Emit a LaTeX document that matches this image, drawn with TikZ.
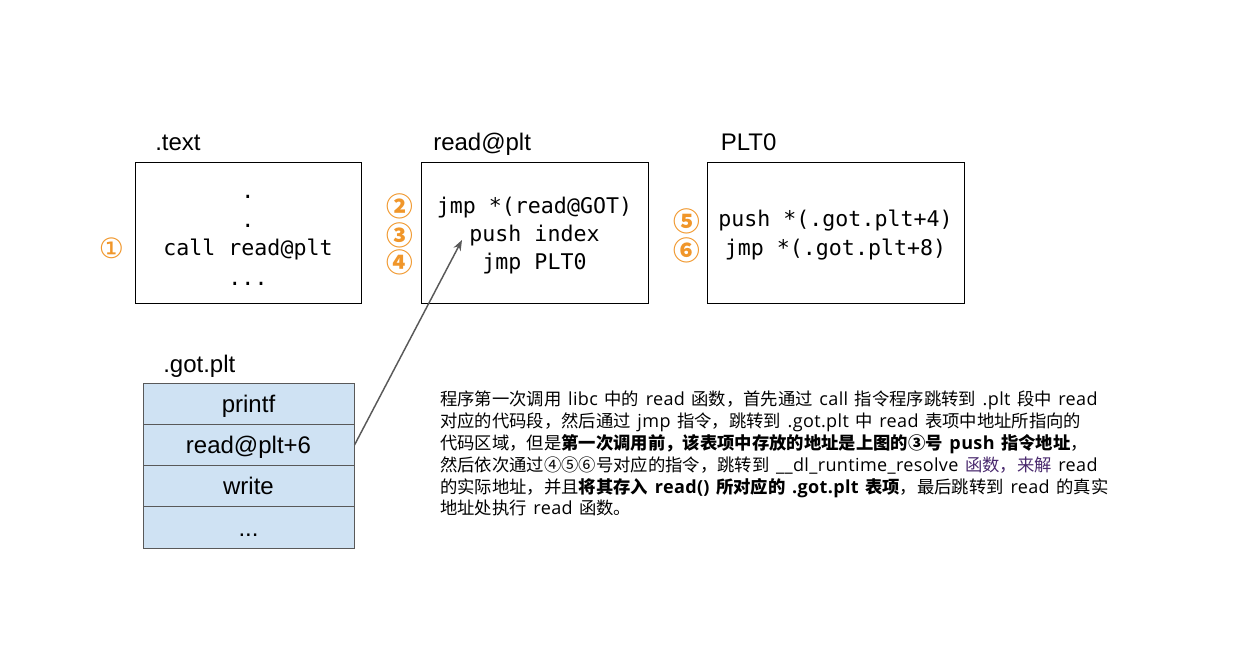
\documentclass[tikz,border=0pt]{standalone}
\usepackage{fontspec}
\setmainfont{Liberation Sans}
\newfontfamily\codefont{DejaVu Sans Mono}
\newfontfamily\cjk{Noto Sans CJK SC}
\newfontfamily\latf[Scale=1.04,LetterSpace=2,WordSpace=1.3]{Open Sans}
\newfontfamily\circfont{DejaVu Sans}
\newcommand{\ls}[1]{{\latf #1}}
\usetikzlibrary{arrows.meta}
\definecolor{numorange}{HTML}{F0962A}
\definecolor{gotfill}{HTML}{CFE2F3}
\definecolor{linegray}{HTML}{595959}
\definecolor{purp}{HTML}{4A2A6E}
\begin{document}
\begin{tikzpicture}[x=0.75pt,y=-0.75pt,
  secbox/.style={draw=black,line width=0.75pt,minimum height=105.75pt,inner sep=0pt},
  codeline/.style={anchor=base,inner sep=0pt,font=\codefont\fontsize{16.2}{19}\selectfont},
  seclabel/.style={anchor=base west,inner sep=0pt,font=\fontsize{18}{21}\selectfont},
  gotrow/.style={draw=linegray,fill=gotfill,line width=0.75pt,minimum width=158.25pt,minimum height=30.9pt,inner sep=0pt,
     text height=17pt,text depth=4.2pt,font=\fontsize{18}{21}\selectfont},
  thinnum/.style={inner sep=0pt,text=numorange,font=\circfont\fontsize{21}{24}\selectfont},
  boldnum/.style={inner sep=0pt,text=numorange,font=\cjk\bfseries\fontsize{20}{22}\selectfont},
  flowarrow/.style={draw=linegray,line width=1.1pt,-{Stealth[length=8pt,width=6pt]}}
]
\useasboundingbox (0,0) rectangle (1233,651);

% section boxes
\node[secbox,minimum width=169.5pt] (textbox) at (248,232.5) {};
\node[secbox,minimum width=170.25pt] (pltbox) at (534.5,232.5) {};
\node[secbox,minimum width=192.75pt] (plt0box) at (835.5,232.5) {};

% labels
\node[seclabel] (textlbl) at (155,150) {.text};
\node[seclabel] (pltlbl) at (433,150) {read@plt};
\node[seclabel] (plt0lbl) at (720.5,150) {PLT0};
\node[seclabel] (gotlbl) at (163,372.5) {.got.plt};

% .text code
\node[codeline] (t1) at (248,198.5) {.};
\node[codeline] (t2) at (248,227) {.};
\node[codeline] (t3) at (248,255) {call read@plt};
\node[codeline] (t4) at (248,285) {...};

% read@plt code
\node[codeline] (p1) at (534.5,213.5) {jmp *(read@GOT)};
\node[codeline] (p2) at (534.5,241) {push index};
\node[codeline] (p3) at (534.5,269) {jmp PLT0};

% PLT0 code
\node[codeline] (q1) at (835.5,226.5) {push *(.got.plt+4)};
\node[codeline] (q2) at (835.5,255) {jmp *(.got.plt+8)};

% circled numbers
\node[thinnum] (n1) at (111.5,248) {①};
\node[boldnum] (n2) at (400,206.5) {②};
\node[boldnum] (n3) at (400,235) {③};
\node[boldnum] (n4) at (400,262) {④};
\node[boldnum] (n5) at (686.5,221.5) {⑤};
\node[boldnum] (n6) at (686.5,250) {⑥};

% .got.plt table
\node[gotrow] (r1) at (248.5,403.8) {printf};
\node[gotrow] (r2) at (248.5,445) {read@plt+6};
\node[gotrow] (r3) at (248.5,486.2) {write};
\node[gotrow] (r4) at (248.5,527.5) {...};

% arrow
\coordinate (pushpt) at (462,240);
\draw[flowarrow] (r2.east) -- (pushpt);

% paragraph
\node[anchor=north west,inner sep=0pt,align=left,font=\cjk\fontsize{13}{16.35}\selectfont] (desc) at (440,391) {%
程序第一次调用\ls{ libc }中的\ls{ read }函数，首先通过\ls{ call }指令程序跳转到\ls{ .plt }段中\ls{ read}\\
对应的代码段，然后通过\ls{ jmp }指令，跳转到\ls{ .got.plt }中\ls{ read }表项中地址所指向的\\
代码区域，但是\textbf{第一次调用前，该表项中存放的地址是上图的③号\ls{ push }指令地址}，\\
然后依次通过④⑤⑥号对应的指令，跳转到\ls{ \_\_dl\_runtime\_resolve }{\color{purp}函数，来解}\ls{ read}\\
的实际地址，并且\textbf{将其存入\ls{ read() }所对应的\ls{ .got.plt }表项}，最后跳转到\ls{ read }的真实\\
地址处执行\ls{ read }函数。};
\end{tikzpicture}
\end{document}
